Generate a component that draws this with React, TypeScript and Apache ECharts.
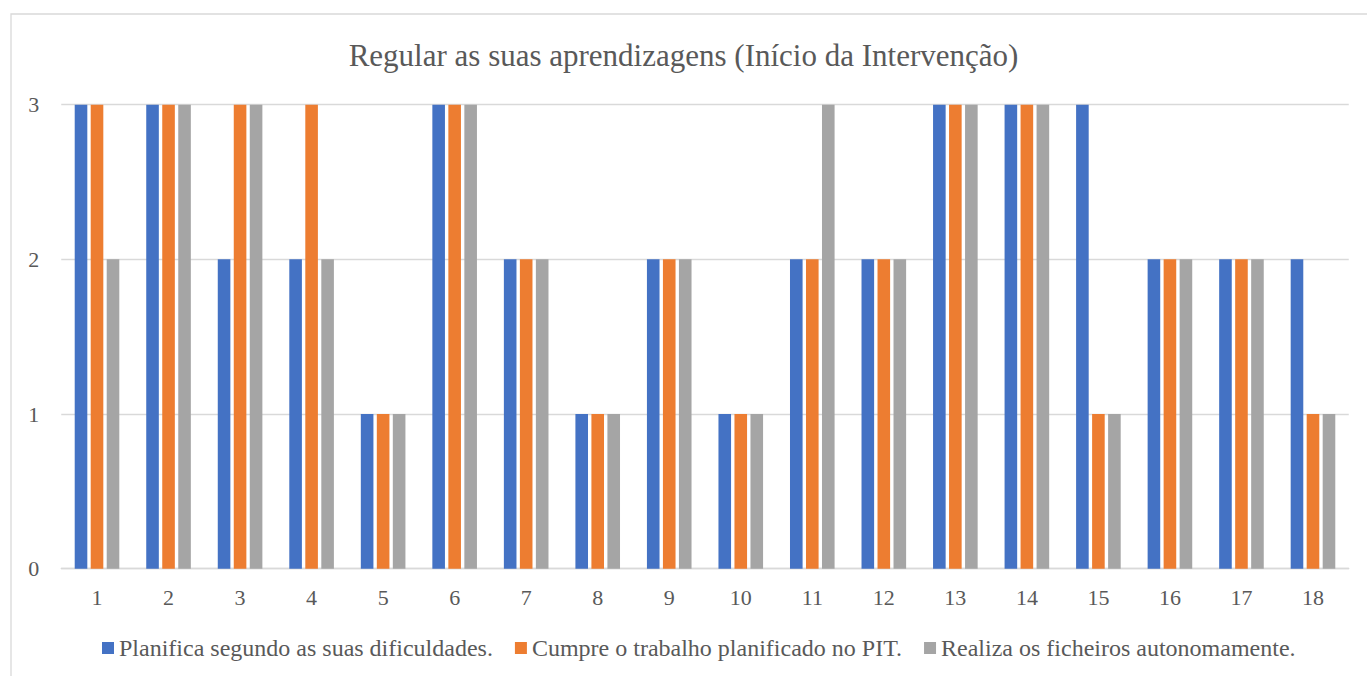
import React, { useEffect, useRef } from "react";
import * as echarts from "echarts";

const titleText = "Regular as suas aprendizagens (Início da Intervenção)";
const categories = ["1", "2", "3", "4", "5", "6", "7", "8", "9", "10", "11", "12", "13", "14", "15", "16", "17", "18"];
const seriesNames = [
  "Planifica segundo as suas dificuldades.",
  "Cumpre o trabalho planificado no PIT.",
  "Realiza os ficheiros autonomamente.",
];
const planifica = [3, 3, 2, 2, 1, 3, 2, 1, 2, 1, 2, 2, 3, 3, 3, 2, 2, 2];
const cumpre = [3, 3, 3, 3, 1, 3, 2, 1, 2, 1, 2, 2, 3, 3, 1, 2, 2, 1];
const realiza = [2, 3, 3, 2, 1, 3, 2, 1, 2, 1, 3, 2, 3, 3, 1, 2, 2, 1];
const yTicks = [0, 1, 2, 3];
const colors = ["#4472C4", "#ED7D31", "#A5A5A5"];

const FONT = "'Liberation Serif', 'Times New Roman', serif";
const TEXT = "#595959";

export default function App() {
  const ref = useRef<HTMLDivElement>(null);
  useEffect(() => {
    document.body.style.margin = "0";
    if (!ref.current) return;
    const chart = echarts.init(ref.current, undefined, { renderer: "svg" });
    const values = [planifica, cumpre, realiza];
    chart.setOption({
      animation: false,
      backgroundColor: "#ffffff",
      textStyle: { fontFamily: FONT },
      graphic: [
        {
          type: "rect",
          shape: { x: 11, y: 14, width: 1370, height: 680 },
          style: { fill: "none", stroke: "#d9d9d9", lineWidth: 1.3 },
          silent: true,
        },
      ],
      title: {
        text: titleText,
        left: "center",
        top: 40,
        padding: 0,
        textStyle: { fontFamily: FONT, fontSize: 31, fontWeight: "normal", color: TEXT },
      },
      legend: {
        data: seriesNames,
        left: 102,
        top: 636,
        padding: 0,
        itemWidth: 12,
        itemHeight: 12,
        itemGap: 22,
        icon: "rect",
        textStyle: { fontFamily: FONT, fontSize: 24, color: TEXT },
      },
      grid: { left: 61.25, right: 18.25, top: 104.7, bottom: 107.3, containLabel: false },
      xAxis: {
        type: "category",
        data: categories,
        axisTick: { show: false },
        axisLine: { lineStyle: { color: "#d9d9d9", width: 1.3 } },
        axisLabel: { fontFamily: FONT, fontSize: 22, color: TEXT, margin: 18 },
      },
      yAxis: {
        type: "value",
        min: yTicks[0],
        max: yTicks[yTicks.length - 1],
        interval: 1,
        axisLine: { show: false },
        axisTick: { show: false },
        splitLine: { lineStyle: { color: "#d9d9d9", width: 1.3 } },
        axisLabel: { fontFamily: FONT, fontSize: 22, color: TEXT, margin: 22 },
      },
      series: seriesNames.map((name, i) => ({
        name,
        type: "bar",
        data: values[i],
        barWidth: 12.6,
        barGap: "27%",
        itemStyle: { color: colors[i] },
      })),
    });
    return () => chart.dispose();
  }, []);
  return <div ref={ref} style={{ width: 1367, height: 676 }} />;
}
